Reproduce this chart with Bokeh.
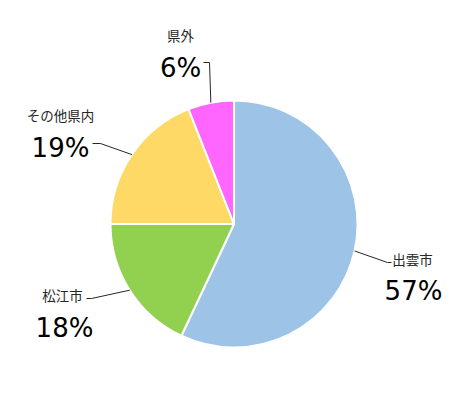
import numpy as np
from bokeh.plotting import figure
from bokeh.models import Range1d, ColumnDataSource
from bokeh.core.properties import value
from bokeh.embed import file_html
from bokeh.resources import INLINE

categories = ["出雲市", "松江市", "その他県内", "県外"]
shares = [57, 18, 19, 6]
colors = ["#9DC3E6", "#92D050", "#FFD966", "#FF66FF"]

W, H = 449, 384
# data units == screen pixels; screen y = H - data y
p = figure(width=W, height=H, output_backend="svg", toolbar_location=None,
           x_range=Range1d(0, W), y_range=Range1d(0, H),
           min_border=0)
p.axis.visible = False
p.grid.visible = False
p.outline_line_color = None
p.background_fill_color = "white"
p.border_fill_color = "white"

def sy(y):
    return H - y

cx, cy, r = 233.5, sy(223.5), 123.5
vals = np.array(shares, dtype=float)
frac = vals / vals.sum()
cum = np.concatenate([[0], np.cumsum(frac)])
start = np.pi / 2 - cum[1:] * 2 * np.pi
end = np.pi / 2 - cum[:-1] * 2 * np.pi
src = ColumnDataSource(dict(start=start, end=end, color=colors, cat=categories))
p.wedge(x=cx, y=cy, radius=r, start_angle="start", end_angle="end",
        fill_color="color", line_color="white", line_width=2, source=src)

# label layout (screen coords): name center, pct center, leader elbow, leader end
layout = [
    dict(name=(412, 258), pct=(413, 290), elbow=(387, 262), tail=(391, 262)),
    dict(name=(62, 294), pct=(64, 327), elbow=(91, 298), tail=(86, 298)),
    dict(name=(60, 114), pct=(60, 147), elbow=(100, 143), tail=(92, 143)),
    dict(name=(180, 34), pct=(180, 67), elbow=(209, 62), tail=(203, 62)),
]
font = value("Noto Sans CJK JP")
pfont = value("DejaVu Sans")
mid = (cum[:-1] + cum[1:]) / 2
for i, cat in enumerate(categories):
    a = mid[i] * 2 * np.pi
    sx0 = cx + np.sin(a) * r
    sy0 = cy + np.cos(a) * r
    L = layout[i]
    p.line([sx0, L["elbow"][0], L["tail"][0]],
           [sy0, sy(L["elbow"][1]), sy(L["tail"][1])],
           line_color="#262626", line_width=1)
    p.text(x=[L["name"][0]], y=[sy(L["name"][1])], text=[cat],
           text_font=font, text_font_size="13.5px", text_color="#262626",
           text_align="center", text_baseline="middle")
    p.text(x=[L["pct"][0]], y=[sy(L["pct"][1])], text=[f"{shares[i]}%"],
           text_font=pfont, text_font_size="26px", text_color="#000000",
           text_align="center", text_baseline="middle")

open("out.html", "w").write(file_html(p, INLINE))
